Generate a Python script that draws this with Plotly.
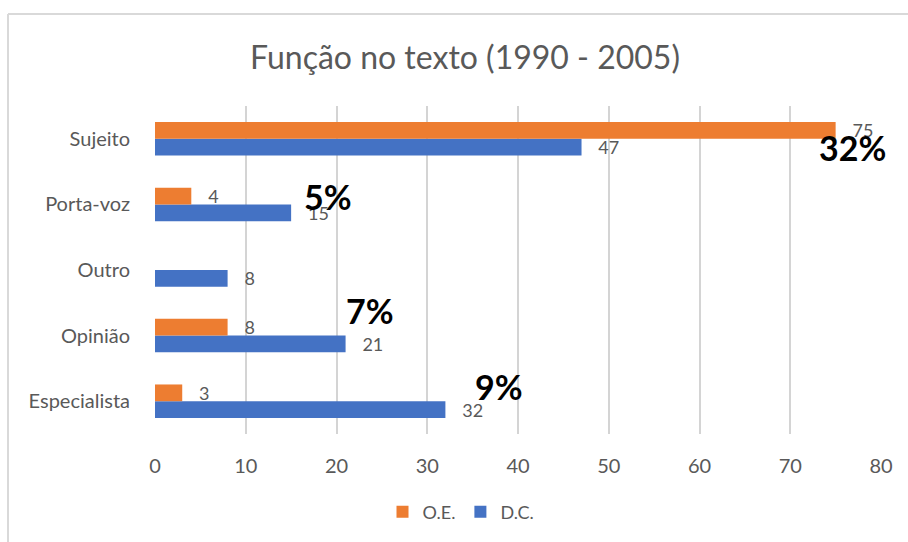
import plotly.graph_objects as go

categories = ["Especialista", "Opinião", "Outro", "Porta-voz", "Sujeito"]
oe_values = [3, 8, None, 4, 75]
dc_values = [32, 21, 8, 15, 47]
x_ticks = [0, 10, 20, 30, 40, 50, 60, 70, 80]

pct_labels = ["32%", "5%", "7%", "9%"]
pct_x = [76.9, 19.1, 23.7, 37.9]
pct_cat = ["Sujeito", "Porta-voz", "Opinião", "Especialista"]
pct_shift = [-9, 8, 25, 15]

FONT = "Lato"
GRAY = "#595959"
PAD = "\u00a0\u00a0\u00a0"

def lab(v):
    return PAD + str(v) if v else ""

fig = go.Figure()
fig.add_trace(go.Bar(
    y=categories, x=dc_values, name="D.C.", orientation="h",
    marker=dict(color="#4472C4", line=dict(width=0)),
    text=[lab(v) for v in dc_values],
    textposition="outside", cliponaxis=False, constraintext="none",
    textfont=dict(color=GRAY, size=18, family=FONT),
))
fig.add_trace(go.Bar(
    y=categories, x=oe_values, name="O.E.", orientation="h",
    marker=dict(color="#ED7D31", line=dict(width=0)),
    text=[lab(v) for v in oe_values],
    textposition="outside", cliponaxis=False, constraintext="none",
    textfont=dict(color=GRAY, size=18, family=FONT),
))

for t, xv, cat, sh in zip(pct_labels, pct_x, pct_cat, pct_shift):
    fig.add_annotation(x=xv, y=cat, yshift=sh, text="<b>%s</b>" % t,
                       showarrow=False, xref="x", yref="y",
                       font=dict(family=FONT, size=34, color="black"))

top_y = 1.0 + (106 - 13) / 332
left_x = -(155 - 8) / 726
fig.add_shape(type="line", xref="paper", yref="paper",
              x0=left_x, x1=1.2, y0=top_y, y1=top_y,
              line=dict(color="#d9d9d9", width=2))
fig.add_shape(type="line", xref="paper", yref="paper",
              x0=left_x, x1=left_x, y0=top_y, y1=-0.5,
              line=dict(color="#d9d9d9", width=2))

fig.update_layout(
    width=908, height=542,
    margin=dict(l=155, r=27, t=106, b=104),
    paper_bgcolor="white", plot_bgcolor="white",
    barmode="group", bargap=0.49, bargroupgap=0,
    title=dict(text="Função no texto (1990 - 2005)", x=(465 / 908), xanchor="center",
               y=1 - 58 / 542, yanchor="middle",
               font=dict(family=FONT, size=32, color=GRAY)),
    xaxis=dict(range=[0, 80], tickvals=x_ticks, showgrid=True,
               gridcolor="#d4d4d4", gridwidth=1.8, zeroline=False,
               showline=False, ticks="outside", ticklen=14,
               tickcolor="rgba(0,0,0,0)",
               tickfont=dict(family=FONT, size=20, color=GRAY)),
    yaxis=dict(categoryorder="array", categoryarray=categories,
               showgrid=False, zeroline=False, showline=False,
               ticks="outside", ticklen=20, tickcolor="rgba(0,0,0,0)",
               tickfont=dict(family=FONT, size=20, color=GRAY)),
    legend=dict(orientation="h", x=(461 - 155) / 726, xanchor="center",
                y=-(517 - 438) / 332, yanchor="middle", traceorder="reversed",
                font=dict(family=FONT, size=18, color=GRAY),
                itemwidth=30),
    showlegend=True,
)
fig.layout.title.xref = "container"

fig.write_html("out.html")
